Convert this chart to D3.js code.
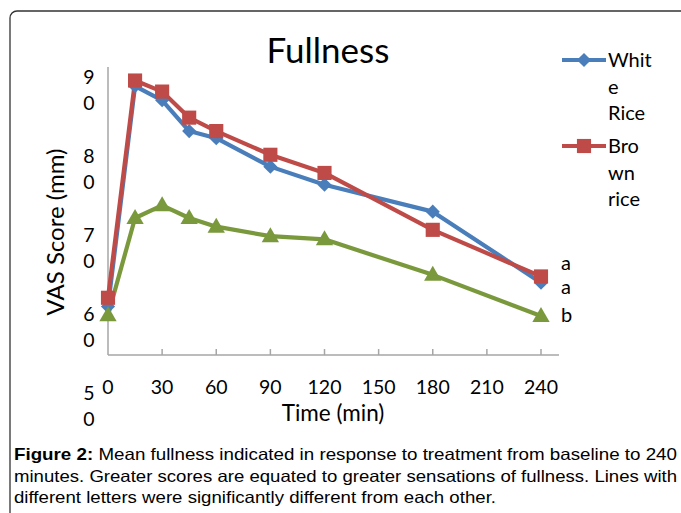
<!DOCTYPE html>
<html>
<head>
<meta charset="utf-8">
<script src="https://cdn.jsdelivr.net/npm/d3@7"></script>
<style>
  html, body { margin: 0; padding: 0; background: #fff; }
  svg { display: block; }
</style>
</head>
<body>
<svg id="chart" width="681" height="513"></svg>
<script>
// ---- data ----
const times = [0, 15, 30, 45, 60, 90, 120, 180, 240];
const whiteRice = [62.6, 90.5, 88.7, 84.8, 83.9, 80.3, 78.0, 74.6, 65.6];
const brownRice = [63.7, 91.2, 89.8, 86.5, 84.8, 81.8, 79.5, 72.3, 66.4];
const thirdSeries = [61.5, 73.8, 75.4, 73.8, 72.7, 71.5, 71.1, 66.6, 61.4];
const xTicks = [0, 30, 60, 90, 120, 150, 180, 210, 240];
const yTicks = [50, 60, 70, 80, 90];
const seriesNames = ["White Rice", "Brown rice"];
const legendLines = [["Whit", "e", "Rice"], ["Bro", "wn", "rice"]];
const sigLetters = ["a", "a", "b"];
const captionBold = "Figure 2:";
const captionLines = [
  " Mean fullness indicated in response to treatment from baseline to 240",
  "minutes. Greater scores are equated to greater sensations of fullness. Lines with",
  "different letters were significantly different from each other."
];

const svg = d3.select("#chart");
const font = "Lato, 'Open Sans', sans-serif";

// frame
svg.append("rect").attr("x", 10).attr("y", 11).attr("width", 700).attr("height", 540)
  .attr("rx", 7).attr("fill", "none").attr("stroke", "#333").attr("stroke-width", 1.3);

const x = d3.scaleLinear().domain([0, 240]).range([108, 541]);
const y = d3.scaleLinear().domain([50, 90]).range([406, 90]);
const axisBottomValue = 56.45;
const axisTopValue = 92.9;

// y axis line
svg.append("line").attr("x1", x(0)).attr("x2", x(0))
  .attr("y1", y(axisTopValue)).attr("y2", y(axisBottomValue))
  .attr("stroke", "#a6a6a6").attr("stroke-width", 1.5);

// x axis
const xAxisG = svg.append("g").attr("transform", `translate(0,${y(axisBottomValue)})`);
xAxisG.append("line").attr("x1", x(0)).attr("x2", x(250)).attr("stroke", "#a6a6a6").attr("stroke-width", 1.5);
xAxisG.selectAll(".tk").data(xTicks.slice(1)).enter().append("line")
  .attr("x1", d => x(d)).attr("x2", d => x(d)).attr("y1", 0).attr("y2", -6)
  .attr("stroke", "#a6a6a6").attr("stroke-width", 1.5);
xAxisG.selectAll(".tl").data(xTicks).enter().append("text")
  .attr("x", d => x(d)).attr("y", 39).attr("text-anchor", "middle")
  .attr("font-family", font).attr("font-size", 19.5).attr("fill", "#000").text(d => d);

// y tick labels (wrapped into two lines as in reference)
yTicks.forEach(v => {
  const s = String(v);
  const t = svg.append("text").attr("x", 89).attr("y", y(v) - 6)
    .attr("text-anchor", "middle").attr("font-family", font).attr("font-size", 19.5).attr("fill", "#000");
  t.append("tspan").attr("x", 89).text(s[0]);
  t.append("tspan").attr("x", 89).attr("dy", 26).text(s.slice(1));
});

// titles
svg.append("text").attr("x", 328).attr("y", 63).attr("text-anchor", "middle")
  .attr("font-family", font).attr("font-size", 35).attr("fill", "#000").text("Fullness");
svg.append("text").attr("transform", "translate(64,232) rotate(-90)").attr("text-anchor", "middle")
  .attr("font-family", font).attr("font-size", 24).attr("fill", "#000").text("VAS Score (mm)");
svg.append("text").attr("x", 333).attr("y", 421).attr("text-anchor", "middle")
  .attr("font-family", font).attr("font-size", 22.5).attr("fill", "#000").text("Time (min)");

// series
const series = [
  { vals: whiteRice, color: "#4a7ebb", marker: "diamond" },
  { vals: brownRice, color: "#be4b48", marker: "square" },
  { vals: thirdSeries, color: "#7a993c", marker: "triangle" }
];
const line = d3.line().x((d, i) => x(times[i])).y(d => y(d));
const symbols = {
  diamond: d3.symbol().type(d3.symbolSquare).size(100),
  square: d3.symbol().type(d3.symbolSquare).size(200),
  triangle: d3.symbol().type(d3.symbolTriangle).size(130)
};
series.forEach(s => {
  svg.append("path").datum(s.vals).attr("d", line).attr("fill", "none")
    .attr("stroke", s.color).attr("stroke-width", 4.2).attr("stroke-linejoin", "round");
});
series.forEach(s => {
  svg.selectAll(null).data(s.vals).enter().append("path")
    .attr("d", symbols[s.marker]())
    .attr("transform", (d, i) => `translate(${x(times[i])},${y(d)})` + (s.marker === "diamond" ? " rotate(45)" : (s.marker === "triangle" ? " translate(0,1)" : "")))
    .attr("fill", s.color);
});

// significance letters
const letterYs = [brownRice[8] + 1.6, brownRice[8] - 1.5, thirdSeries[8]];
sigLetters.forEach((l, i) => {
  svg.append("text").attr("x", 561).attr("y", y(letterYs[i]) + 6)
    .attr("font-family", font).attr("font-size", 20).attr("fill", "#000").text(l);
});

// legend
legendLines.forEach((lines, i) => {
  const ly = 60 + i * 86;
  const s = series[i];
  svg.append("line").attr("x1", 562).attr("x2", 606).attr("y1", ly).attr("y2", ly)
    .attr("stroke", s.color).attr("stroke-width", 4.2);
  svg.append("path")
    .attr("d", symbols[s.marker]())
    .attr("transform", `translate(584,${ly})` + (s.marker === "diamond" ? " rotate(45)" : ""))
    .attr("fill", s.color);
  const t = svg.append("text").attr("font-family", font).attr("font-size", 20).attr("fill", "#000");
  lines.forEach((str, j) => {
    t.append("tspan").attr("x", 608).attr("y", ly + 7 + j * 26.5).text(str);
  });
});

// caption
const cap = svg.append("g").attr("font-family", "'Liberation Sans', Arial, sans-serif").attr("font-size", 16.5).attr("fill", "#000");
const l1 = cap.append("text").attr("x", 14).attr("y", 460).attr("textLength", 663).attr("lengthAdjust", "spacingAndGlyphs");
l1.append("tspan").attr("font-weight", "bold").text(captionBold);
l1.append("tspan").text(captionLines[0]);
cap.append("text").attr("x", 14).attr("y", 482).attr("textLength", 663).attr("lengthAdjust", "spacingAndGlyphs").text(captionLines[1]);
cap.append("text").attr("x", 14).attr("y", 503).attr("textLength", 482).attr("lengthAdjust", "spacingAndGlyphs").text(captionLines[2]);
</script>
</body>
</html>
